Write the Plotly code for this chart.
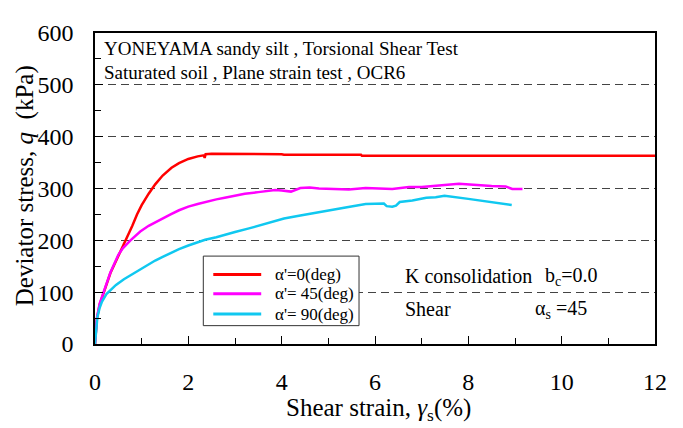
import plotly.graph_objects as go

# ---- data ----
x_a0 = [0, 0.02, 0.04, 0.1, 0.19, 0.33, 0.47, 0.6, 0.7, 0.8, 0.9, 1.0, 1.15, 1.29, 1.45,
        1.64, 1.8, 2.0, 2.2, 2.33, 2.35, 2.37, 2.5, 2.8, 2.82, 4.0, 4.05, 5.7, 5.72, 12]
y_a0 = [0, 30, 48, 76, 100, 137, 164, 188, 208, 228, 250, 268, 290, 308, 325,
        340, 349, 357, 362, 364, 359, 366, 367, 367, 366, 366, 365, 365, 363, 363]

x_a45 = [0, 0.02, 0.04, 0.1, 0.19, 0.33, 0.5, 0.6, 0.76, 0.97, 1.15, 1.33, 1.45,
         1.62, 1.8, 2.0, 2.2, 2.36, 2.6, 2.78, 3.0, 3.21, 3.5, 3.86, 4.0, 4.2, 4.4, 4.6,
         4.8, 5.1, 5.44, 5.8, 6.1, 6.37, 6.73, 7.0, 7.37, 7.6, 7.8, 7.95, 8.23, 8.5, 8.8,
         8.94, 9.16]
y_a45 = [0, 30, 50, 78, 101, 138, 172, 185, 200, 217, 228, 237, 243,
         250, 258, 265, 270, 274, 279, 282, 286, 290, 293, 297, 296, 294, 301, 302,
         300, 299, 298, 301, 300, 299, 303, 303, 306, 308, 309, 308, 306, 305, 304,
         299, 299]

x_a90 = [0, 0.02, 0.05, 0.1, 0.15, 0.25, 0.33, 0.45, 0.62, 0.8, 0.97, 1.15, 1.29, 1.45,
         1.62, 1.8, 2.0, 2.2, 2.36, 2.6, 2.78, 3.0, 3.3, 3.58, 3.8, 4.05, 4.4, 4.7, 4.98,
         5.1, 5.4, 5.8, 6.0, 6.19, 6.25, 6.37, 6.45, 6.53, 6.8, 7.1, 7.3, 7.49, 8.0, 8.5,
         8.93]
y_a90 = [0, 30, 51, 70, 82, 97, 104, 114, 125, 135, 144, 153, 161, 168,
         176, 183, 190, 196, 201, 206, 211, 216, 223, 230, 236, 242, 248, 253, 258,
         259, 264, 270, 270, 271, 266, 265, 267, 274, 277, 282, 283, 286, 280, 274,
         268]

names = ["α'=0(deg)", "α'= 45(deg)", "α'= 90(deg)"]
colors = ["#ff0000", "#ff00ff", "#10c8f0"]

x_ticks = [0, 2, 4, 6, 8, 10, 12]
y_ticks = [0, 100, 200, 300, 400, 500, 600]

FONT = "Liberation Serif"

fig = go.Figure()
for xs, ys, n, c in zip([x_a0, x_a45, x_a90], [y_a0, y_a45, y_a90], names, colors):
    fig.add_trace(go.Scatter(x=xs, y=ys, mode="lines", name=n, showlegend=False,
                             line=dict(color=c, width=2.5)))

# page body has an 8px margin; target screen coordinates are offset by it
OFF = 8
L, R, T, B = 94.5 - OFF, 655.5 - OFF, 22 - OFF, 344 - OFF
W, H = 683 - OFF, 428 - OFF
PW, PH = R - L, B - T

def px(xp):
    return (xp - OFF - L) / PW

def py(yp):
    return (B - (yp - OFF)) / PH

fig.update_layout(
    width=W, height=H,
    margin=dict(l=L, r=W - R, t=T, b=H - B, pad=0),
    paper_bgcolor="white", plot_bgcolor="white",
    font=dict(family=FONT, color="black"),
    showlegend=False,
    xaxis=dict(range=[0, 12], tickvals=x_ticks, ticks="inside", ticklen=8,
               tickwidth=1, tickcolor="black",
               minor=dict(dtick=1, ticks="inside", ticklen=6, tickcolor="black"),
               showline=True, linecolor="black", linewidth=1.5, mirror=True,
               showgrid=False, zeroline=False,
               tickfont=dict(size=24, family=FONT), ticklabelstandoff=15),
    yaxis=dict(range=[0, 600], tickvals=y_ticks, ticks="inside", ticklen=8,
               tickwidth=1, tickcolor="black",
               minor=dict(dtick=50, ticks="inside", ticklen=6, tickcolor="black"),
               showline=True, linecolor="black", linewidth=1.5, mirror=True,
               showgrid=True, gridcolor="#444", gridwidth=1, griddash="8px,5px",
               zeroline=False,
               tickfont=dict(size=24, family=FONT), ticklabelstandoff=15),
)

# legend box drawn in the style of the original figure
shapes = [dict(type="rect", xref="paper", yref="paper",
               x0=px(203), x1=px(359), y0=py(325), y1=py(253),
               line=dict(color="#333", width=1), fillcolor="white", layer="above")]
leg_y = [272, 292, 313]
ann = []
for n, c, ly in zip(names, colors, leg_y):
    shapes.append(dict(type="line", xref="paper", yref="paper",
                       x0=px(213), x1=px(261), y0=py(ly), y1=py(ly),
                       line=dict(color=c, width=3), layer="above"))
    ann.append(dict(text=n, x=px(273), y=py(ly), xanchor="left", yanchor="middle",
                    font=dict(size=17)))
fig.update_layout(shapes=shapes)

ann += [
    dict(text="YONEYAMA sandy silt , Torsional Shear Test", x=px(102), y=py(38),
         xanchor="left", yanchor="middle", font=dict(size=19)),
    dict(text="Saturated soil , Plane strain test , OCR6", x=px(102), y=py(63),
         xanchor="left", yanchor="middle", font=dict(size=19)),
    dict(text="K consolidation", x=px(403), y=py(274),
         xanchor="left", yanchor="middle", font=dict(size=20)),
    dict(text="b<sub>c</sub>=0.0", x=px(543), y=py(274),
         xanchor="left", yanchor="middle", font=dict(size=20)),
    dict(text="Shear", x=px(403), y=py(308),
         xanchor="left", yanchor="middle", font=dict(size=20)),
    dict(text="α<sub>s</sub> =45", x=px(533), y=py(308),
         xanchor="left", yanchor="middle", font=dict(size=20)),
    dict(text="Shear strain, <i>γ</i><sub>s</sub>(%)", x=px(379), y=py(412),
         xanchor="center", yanchor="middle", font=dict(size=25)),
    dict(text="Deviator stress, <i>q</i>  (kPa)", x=px(24), y=py(180),
         xanchor="center", yanchor="middle", textangle=-90, font=dict(size=25)),
]
for a in ann:
    a.update(xref="paper", yref="paper", showarrow=False)
    a["font"]["family"] = FONT
    a["font"]["color"] = "black"
fig.update_layout(annotations=ann)

fig.write_html("out.html")
